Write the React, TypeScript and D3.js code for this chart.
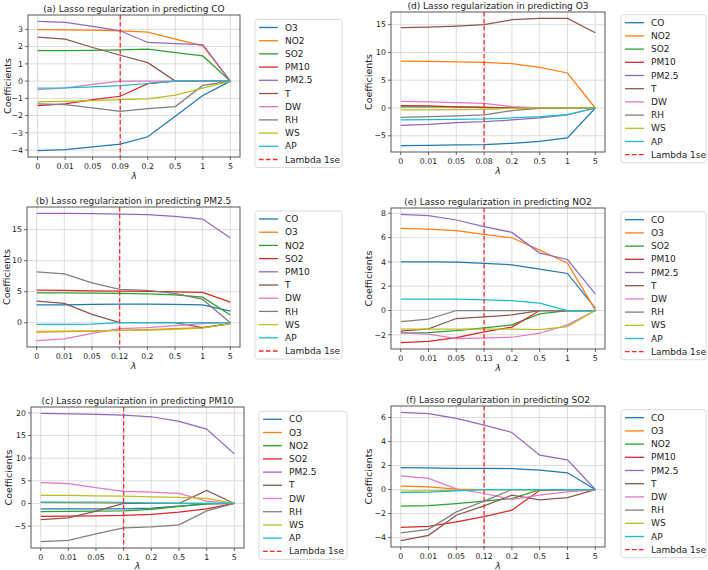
import React from 'react';
import * as d3 from 'd3';

// ---------- data ----------
const COLORS = ['#1f77b4', '#ff7f0e', '#2ca02c', '#d62728', '#9467bd', '#8c564b', '#e377c2', '#7f7f7f', '#bcbd22', '#17becf'];

const ticksA = ['0', '0.01', '0.05', '0.09', '0.2', '0.5', '1', '5'];
const namesA = ['O3', 'NO2', 'SO2', 'PM10', 'PM2.5', 'T', 'DW', 'RH', 'WS', 'AP'];
const valuesA = [
  [-4.03, -3.97, -3.81, -3.66, -3.23, -2.04, -0.84, 0],
  [2.98, 2.97, 2.95, 2.92, 2.84, 2.43, 2.04, 0],
  [1.77, 1.77, 1.78, 1.81, 1.85, 1.65, 1.46, 0],
  [-1.42, -1.32, -1.07, -0.88, -0.15, 0, 0, 0],
  [3.46, 3.4, 3.17, 2.92, 2.24, 2.18, 2.12, 0],
  [2.55, 2.43, 1.95, 1.5, 1.07, 0, 0, 0],
  [-0.49, -0.39, -0.19, 0, 0, 0, 0, 0],
  [-1.32, -1.36, -1.56, -1.75, -1.6, -1.48, -0.25, 0],
  [-1.2, -1.17, -1.13, -1.07, -1.03, -0.82, -0.41, 0],
  [-0.41, -0.39, -0.33, -0.27, -0.14, 0, 0, 0],
];
const yTicksA = [-4, -3, -2, -1, 0, 1, 2, 3];

const ticksB = ['0', '0.01', '0.05', '0.12', '0.2', '0.5', '1', '5'];
const namesB = ['CO', 'O3', 'NO2', 'SO2', 'PM10', 'T', 'DW', 'RH', 'WS', 'AP'];
const valuesB = [
  [2.89, 2.89, 2.95, 3.0, 3.0, 2.95, 2.89, 1.87],
  [-1.5, -1.45, -1.34, -1.23, -1.12, -0.96, -0.8, -0.16],
  [4.82, 4.82, 4.77, 4.71, 4.66, 4.5, 4.12, 1.23],
  [5.25, 5.2, 5.14, 5.09, 5.03, 4.98, 4.87, 3.32],
  [17.62, 17.62, 17.57, 17.51, 17.4, 17.14, 16.71, 13.66],
  [3.48, 3.1, 1.34, 0, 0, 0, -0.8, -0.16],
  [-2.89, -2.62, -1.71, -0.96, -0.8, -0.48, -0.16, 0],
  [8.2, 7.87, 6.43, 5.36, 5.2, 4.71, 3.75, 0],
  [-1.39, -1.36, -1.3, -1.23, -1.18, -1.07, -0.86, -0.16],
  [-0.27, -0.27, -0.22, 0, 0, 0, 0, 0],
];
const yTicksB = [0, 5, 10, 15];

const ticksC = ['0', '0.01', '0.05', '0.1', '0.2', '0.5', '1', '5'];
const namesC = ['CO', 'O3', 'NO2', 'SO2', 'PM2.5', 'T', 'DW', 'RH', 'WS', 'AP'];
const valuesC = [
  [-1.2, -1.2, -1.2, -1.2, -1.05, -0.6, -0.1, 0],
  [0.25, 0.2, 0.15, 0.07, 0, 0, 0, 0],
  [-1.78, -1.76, -1.7, -1.63, -1.33, -0.67, -0.07, 0],
  [-2.88, -2.81, -2.74, -2.66, -2.44, -1.92, -1.18, 0],
  [19.9, 19.82, 19.67, 19.53, 19.16, 18.12, 16.42, 10.95],
  [-3.55, -3.18, -1.7, 0, 0, 0, 2.88, 0],
  [4.59, 4.36, 3.5, 2.66, 2.51, 2.22, 0.52, 0],
  [-8.43, -8.14, -6.73, -5.4, -5.18, -4.73, -1.63, 0],
  [1.78, 1.76, 1.7, 1.63, 1.48, 1.33, 1.11, 0],
  [0.3, 0.3, 0.28, 0.22, 0.05, 0, 0, 0],
];
const yTicksC = [-5, 0, 5, 10, 15, 20];

const ticksD = ['0', '0.01', '0.05', '0.08', '0.2', '0.5', '1', '5'];
const namesD = ['CO', 'NO2', 'SO2', 'PM10', 'PM2.5', 'T', 'DW', 'RH', 'WS', 'AP'];
const valuesD = [
  [-6.78, -6.72, -6.66, -6.6, -6.36, -6.0, -5.4, 0],
  [8.46, 8.4, 8.32, 8.22, 7.98, 7.32, 6.3, 0],
  [0.2, 0.2, 0.18, 0.15, 0, 0, 0, 0],
  [0.42, 0.4, 0.22, 0.05, 0, 0, 0, 0],
  [-3.12, -2.94, -2.64, -2.46, -2.16, -1.8, -1.26, 0],
  [14.46, 14.58, 14.76, 15.0, 15.9, 16.14, 16.14, 13.56],
  [1.2, 1.08, 0.96, 0.84, 0.24, 0, 0, 0],
  [-1.68, -1.56, -1.44, -1.26, -0.48, -0.06, 0, 0],
  [-0.36, -0.33, -0.3, -0.24, -0.06, 0, 0, 0],
  [-2.16, -2.1, -2.04, -1.98, -1.8, -1.56, -1.2, 0],
];
const yTicksD = [-5, 0, 5, 10, 15];

const ticksE = ['0', '0.01', '0.05', '0.13', '0.2', '0.5', '1', '5'];
const namesE = ['CO', 'O3', 'SO2', 'PM10', 'PM2.5', 'T', 'DW', 'RH', 'WS', 'AP'];
const valuesE = [
  [4.01, 4.01, 3.98, 3.87, 3.76, 3.41, 3.05, 0.19],
  [6.76, 6.7, 6.57, 6.26, 5.99, 4.97, 3.9, 0.05],
  [-1.84, -1.81, -1.65, -1.43, -1.18, -0.27, 0, 0],
  [-2.64, -2.53, -2.23, -1.76, -1.37, 0, 0, 0],
  [7.91, 7.8, 7.45, 6.9, 6.43, 4.73, 4.2, 1.37],
  [-1.7, -1.51, -0.66, -0.52, -0.36, 0, 0, 0],
  [-1.84, -1.95, -2.31, -2.25, -2.2, -1.87, -1.18, 0],
  [-0.91, -0.71, 0, 0, 0, 0, 0, 0],
  [-1.54, -1.54, -1.54, -1.54, -1.54, -1.57, -1.32, 0],
  [0.93, 0.93, 0.93, 0.88, 0.82, 0.6, 0, 0],
];
const yTicksE = [-2, 0, 2, 4, 6, 8];

const ticksF = ['0', '0.01', '0.05', '0.12', '0.2', '0.5', '1', '5'];
const namesF = ['CO', 'O3', 'NO2', 'PM10', 'PM2.5', 'T', 'DW', 'RH', 'WS', 'AP'];
const valuesF = [
  [1.83, 1.81, 1.77, 1.76, 1.75, 1.61, 1.39, 0],
  [0.28, 0.22, 0.03, 0, 0, 0, 0, 0],
  [-1.39, -1.33, -1.17, -0.97, -0.75, 0, 0, 0],
  [-3.14, -3.06, -2.69, -2.25, -1.72, -0.06, 0, 0],
  [6.42, 6.31, 5.92, 5.36, 4.75, 2.86, 2.47, 0],
  [-4.25, -3.81, -2.14, -1.36, -0.47, -0.86, -0.67, 0],
  [1.14, 0.92, 0.05, -0.33, -0.81, -0.47, -0.19, 0],
  [-3.61, -3.31, -1.86, -0.97, 0, 0, 0, 0],
  [-0.14, -0.12, -0.08, 0, 0, 0, 0, 0],
  [-0.25, -0.22, -0.11, 0, 0, 0, 0, 0],
];
const yTicksF = [-4, -2, 0, 2, 4, 6];

const LAMBDA_INDEX = 3;

// ---------- layout ----------
const panels = [
  { title: '(a) Lasso regularization in predicting CO', names: namesA, values: valuesA, xt: ticksA, yt: yTicksA,
    l: 28, r: 240, t: 15, b: 157, lx: 255, lw: 87, ly: 27.5, yl: 8 },
  { title: '(d) Lasso regularization in predicting O3', names: namesD, values: valuesD, xt: ticksD, yt: yTicksD,
    l: 391, r: 605, t: 12, b: 152, lx: 621, lw: 85, ly: 22.7, yl: 369 },
  { title: '(b) Lasso regularization in predicting PM2.5', names: namesB, values: valuesB, xt: ticksB, yt: yTicksB,
    l: 27, r: 240, t: 207, b: 347, lx: 255, lw: 87, ly: 219, yl: 7 },
  { title: '(e) Lasso regularization in predicting NO2', names: namesE, values: valuesE, xt: ticksE, yt: yTicksE,
    l: 391, r: 605, t: 208, b: 349, lx: 621, lw: 85, ly: 219.7, yl: 369 },
  { title: '(c) Lasso regularization in predicting PM10', names: namesC, values: valuesC, xt: ticksC, yt: yTicksC,
    l: 31, r: 244, t: 407, b: 548, lx: 259, lw: 88, ly: 419.3, yl: 9 },
  { title: '(f) Lasso regularization in predicting SO2', names: namesF, values: valuesF, xt: ticksF, yt: yTicksF,
    l: 391, r: 605, t: 406, b: 547, lx: 621, lw: 85, ly: 417.7, yl: 369 },
];

const FONT = '"DejaVu Sans", sans-serif';
const fmt = (v: number) => (v < 0 ? '\u2212' + Math.abs(v) : String(v));

function Panel({ p }: { p: any }) {
  const x = d3.scaleLinear().domain([-0.35, 7.35]).range([p.l, p.r]);
  const all = p.values.flat();
  const lo = d3.min(all) as number;
  const hi = d3.max(all) as number;
  const pad = (hi - lo) * 0.05;
  const y = d3.scaleLinear().domain([lo - pad, hi + pad]).range([p.b, p.t]);
  const line = d3.line<number>().x((_, i) => x(i)).y((v) => y(v));
  const idx = d3.range(p.xt.length);
  const spacing = 13.2;
  const nLeg = p.names.length + 1;
  const legTop = p.ly - 8;
  const legH = (nLeg - 1) * spacing + 16;
  const lamY = Math.min(p.b + 22, 568.5);
  return (
    <g>
      {idx.map((i) => (
        <line key={'gx' + i} x1={x(i)} x2={x(i)} y1={p.t} y2={p.b} stroke="#d4d4d4" strokeWidth={0.8} />
      ))}
      {p.yt.map((v: number) => (
        <line key={'gy' + v} x1={p.l} x2={p.r} y1={y(v)} y2={y(v)} stroke="#d4d4d4" strokeWidth={0.8} />
      ))}
      {p.values.map((vals: number[], k: number) => (
        <path key={'s' + k} d={line(vals) as string} fill="none" stroke={COLORS[k]} strokeWidth={1.25} />
      ))}
      <line x1={x(LAMBDA_INDEX)} x2={x(LAMBDA_INDEX)} y1={p.t} y2={p.b} stroke="#ff2020" strokeWidth={1.2} strokeDasharray="4.5 2.5" />
      <rect x={p.l} y={p.t} width={p.r - p.l} height={p.b - p.t} fill="none" stroke="#444" strokeWidth={0.9} />
      {idx.map((i) => (
        <g key={'xt' + i}>
          <line x1={x(i)} x2={x(i)} y1={p.b} y2={p.b + 3} stroke="#444" strokeWidth={0.8} />
          <text x={x(i)} y={p.b + 12} fontSize={7.8} textAnchor="middle" fontFamily={FONT} fill="#222">{p.xt[i]}</text>
        </g>
      ))}
      {p.yt.map((v: number) => (
        <g key={'yt' + v}>
          <line x1={p.l - 3} x2={p.l} y1={y(v)} y2={y(v)} stroke="#444" strokeWidth={0.8} />
          <text x={p.l - 5} y={y(v)} dy="0.35em" fontSize={7.8} textAnchor="end" fontFamily={FONT} fill="#222">{fmt(v)}</text>
        </g>
      ))}
      <text x={(p.l + p.r) / 2} y={p.t - 3.5} fontSize={9} textAnchor="middle" fontFamily={FONT} fill="#222">{p.title}</text>
      <text x={(p.l + p.r) / 2} y={lamY} fontSize={9.5} textAnchor="middle" fontFamily={FONT} fontStyle="italic" fill="#222">λ</text>
      <text transform={`translate(${p.yl},${(p.t + p.b) / 2}) rotate(-90)`} dy="0.35em" fontSize={9.5} textAnchor="middle" fontFamily={FONT} fill="#222">Coefficients</text>
      <rect x={p.lx} y={legTop} width={p.lw} height={legH} rx={2.5} fill="#fff" fillOpacity={0.8} stroke="#d0d0d0" strokeWidth={0.8} />
      {p.names.map((n: string, k: number) => (
        <g key={'lg' + k}>
          <line x1={p.lx + 4} x2={p.lx + 23} y1={p.ly + k * spacing} y2={p.ly + k * spacing} stroke={COLORS[k]} strokeWidth={1.3} />
          <text x={p.lx + 30} y={p.ly + k * spacing} dy="0.35em" fontSize={9} fontFamily={FONT} fill="#222">{n}</text>
        </g>
      ))}
      <line x1={p.lx + 4} x2={p.lx + 23} y1={p.ly + p.names.length * spacing} y2={p.ly + p.names.length * spacing} stroke="#ff2020" strokeWidth={1.3} strokeDasharray="4.5 2.5" />
      <text x={p.lx + 30} y={p.ly + p.names.length * spacing} dy="0.35em" fontSize={9} fontFamily={FONT} fill="#222">Lambda 1se</text>
    </g>
  );
}

export default function App() {
  return (
    <svg width={708} height={570} style={{ position: 'absolute', left: 0, top: 0, background: '#fff' }}>
      <rect width={708} height={570} fill="#fff" />
      {panels.map((p, i) => (
        <Panel key={i} p={p} />
      ))}
    </svg>
  );
}
